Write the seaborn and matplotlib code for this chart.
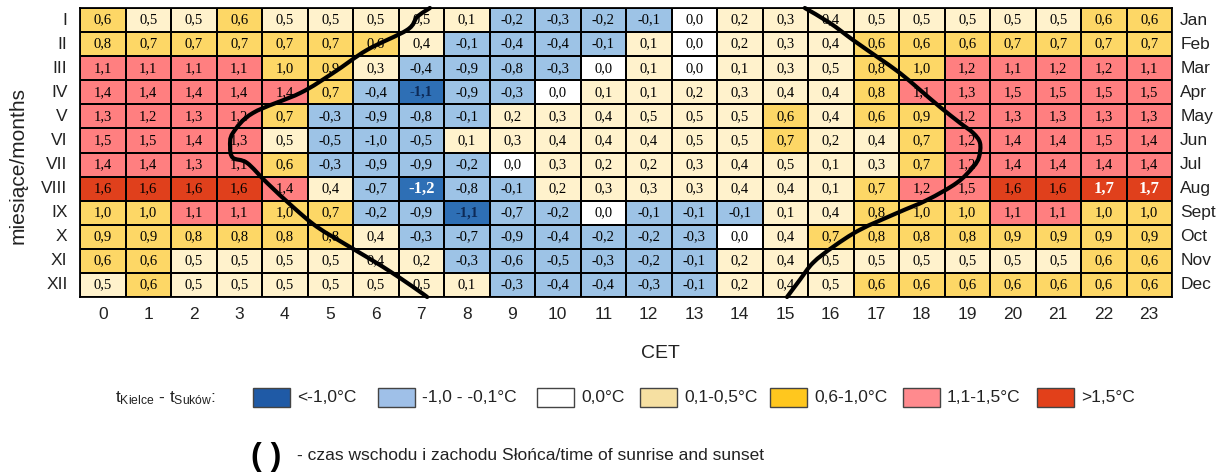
import numpy as np
import pandas as pd
import matplotlib
matplotlib.use("Agg")
import matplotlib.pyplot as plt
from matplotlib.colors import ListedColormap
from matplotlib.patches import Rectangle, PathPatch
from matplotlib.path import Path
import seaborn as sns

# ---- data -----------------------------------------------------------------
hours = list(range(24))
months_roman = ["I", "II", "III", "IV", "V", "VI", "VII", "VIII", "IX", "X", "XI", "XII"]
months_en = ["Jan", "Feb", "Mar", "Apr", "May", "Jun", "Jul", "Aug", "Sept", "Oct", "Nov", "Dec"]

# mean temperature difference t(Kielce) - t(Suków) by hour, one list per month
t_jan = [0.6, 0.5, 0.5, 0.6, 0.5, 0.5, 0.5, 0.5, 0.1, -0.2, -0.3, -0.2, -0.1, 0.0, 0.2, 0.3, 0.4, 0.5, 0.5, 0.5, 0.5, 0.5, 0.6, 0.6]
t_feb = [0.8, 0.7, 0.7, 0.7, 0.7, 0.7, 0.6, 0.4, -0.1, -0.4, -0.4, -0.1, 0.1, 0.0, 0.2, 0.3, 0.4, 0.6, 0.6, 0.6, 0.7, 0.7, 0.7, 0.7]
t_mar = [1.1, 1.1, 1.1, 1.1, 1.0, 0.9, 0.3, -0.4, -0.9, -0.8, -0.3, 0.0, 0.1, 0.0, 0.1, 0.3, 0.5, 0.8, 1.0, 1.2, 1.1, 1.2, 1.2, 1.1]
t_apr = [1.4, 1.4, 1.4, 1.4, 1.4, 0.7, -0.4, -1.1, -0.9, -0.3, 0.0, 0.1, 0.1, 0.2, 0.3, 0.4, 0.4, 0.8, 1.1, 1.3, 1.5, 1.5, 1.5, 1.5]
t_may = [1.3, 1.2, 1.3, 1.2, 0.7, -0.3, -0.9, -0.8, -0.1, 0.2, 0.3, 0.4, 0.5, 0.5, 0.5, 0.6, 0.4, 0.6, 0.9, 1.2, 1.3, 1.3, 1.3, 1.3]
t_jun = [1.5, 1.5, 1.4, 1.3, 0.5, -0.5, -1.0, -0.5, 0.1, 0.3, 0.4, 0.4, 0.4, 0.5, 0.5, 0.7, 0.2, 0.4, 0.7, 1.2, 1.4, 1.4, 1.5, 1.4]
t_jul = [1.4, 1.4, 1.3, 1.1, 0.6, -0.3, -0.9, -0.9, -0.2, 0.0, 0.3, 0.2, 0.2, 0.3, 0.4, 0.5, 0.1, 0.3, 0.7, 1.2, 1.4, 1.4, 1.4, 1.4]
t_aug = [1.6, 1.6, 1.6, 1.6, 1.4, 0.4, -0.7, -1.2, -0.8, -0.1, 0.2, 0.3, 0.3, 0.3, 0.4, 0.4, 0.1, 0.7, 1.2, 1.5, 1.6, 1.6, 1.7, 1.7]
t_sep = [1.0, 1.0, 1.1, 1.1, 1.0, 0.7, -0.2, -0.9, -1.1, -0.7, -0.2, 0.0, -0.1, -0.1, -0.1, 0.1, 0.4, 0.8, 1.0, 1.0, 1.1, 1.1, 1.0, 1.0]
t_oct = [0.9, 0.9, 0.8, 0.8, 0.8, 0.8, 0.4, -0.3, -0.7, -0.9, -0.4, -0.2, -0.2, -0.3, 0.0, 0.4, 0.7, 0.8, 0.8, 0.8, 0.9, 0.9, 0.9, 0.9]
t_nov = [0.6, 0.6, 0.5, 0.5, 0.5, 0.5, 0.4, 0.2, -0.3, -0.6, -0.5, -0.3, -0.2, -0.1, 0.2, 0.4, 0.5, 0.5, 0.5, 0.5, 0.5, 0.5, 0.6, 0.6]
t_dec = [0.5, 0.6, 0.5, 0.5, 0.5, 0.5, 0.5, 0.5, 0.1, -0.3, -0.4, -0.4, -0.3, -0.1, 0.2, 0.4, 0.5, 0.6, 0.6, 0.6, 0.6, 0.6, 0.6, 0.6]

# sunrise / sunset lines: hour position and month position (0 = top edge of January)
sunrise_hour = [7.69, 7.41, 7.19, 6.31, 5.56, 4.84, 3.80, 3.36, 3.30, 3.36, 3.67, 4.11, 4.68, 5.21, 5.93, 6.66, 7.32, 7.63]
sunrise_month = [0.00, 0.37, 0.91, 1.74, 2.70, 3.53, 4.36, 5.19, 5.77, 6.22, 6.43, 7.26, 8.26, 9.09, 9.92, 10.75, 11.58, 12.00]
sunset_hour = [15.93, 16.48, 16.99, 17.52, 18.02, 18.46, 18.90, 19.34, 19.63, 19.78, 19.76, 19.63, 19.27, 18.62, 17.96, 17.14, 16.55, 16.11, 15.82, 15.54]
sunset_month = [0.00, 0.62, 1.33, 2.03, 2.70, 3.40, 4.11, 4.77, 5.19, 5.60, 6.18, 6.60, 7.26, 7.97, 8.51, 9.21, 9.92, 10.58, 11.29, 12.00]

class_labels = ["<-1,0°C", "-1,0 - -0,1°C", "0,0°C", "0,1-0,5°C", "0,6-1,0°C", "1,1-1,5°C", ">1,5°C"]
class_bounds = [-1.05, -0.05, 0.05, 0.55, 1.05, 1.55]
cell_colors = ["#2e6fb5", "#9dc3e6", "#ffffff", "#fff2cc", "#fdd766", "#ff7f80", "#e0401c"]
legend_colors = ["#1f5aa6", "#9fc0e8", "#ffffff", "#f6e0a2", "#ffc71e", "#ff8a8e", "#e2401a"]


def smooth_path(xs, ys):
    """Cubic Bezier path passing through every given point (Catmull-Rom tangents)."""
    pts = np.column_stack([xs, ys])
    ext = np.vstack([pts[0], pts, pts[-1]])
    verts, codes = [pts[0]], [Path.MOVETO]
    for i in range(len(pts) - 1):
        p0, p1, p2, p3 = ext[i], ext[i + 1], ext[i + 2], ext[i + 3]
        verts += [p1 + (p2 - p0) / 6.0, p2 - (p3 - p1) / 6.0, p2]
        codes += [Path.CURVE4] * 3
    return Path(verts, codes)


# ---- styling --------------------------------------------------------------
sns.set_style("white")
plt.rcParams["font.family"] = ["Liberation Sans", "DejaVu Sans"]
plt.rcParams["mathtext.fontset"] = "custom"
plt.rcParams["mathtext.rm"] = "Liberation Sans"
plt.rcParams["mathtext.it"] = "Liberation Sans"

W, H = 1227, 472
fig = plt.figure(figsize=(W / 100, H / 100), dpi=100)
fig.patch.set_facecolor("white")
ax = fig.add_axes([80 / W, 1 - 297 / H, 1092 / W, 289 / H])

values = pd.DataFrame(
    [t_jan, t_feb, t_mar, t_apr, t_may, t_jun, t_jul, t_aug, t_sep, t_oct, t_nov, t_dec],
    index=months_roman, columns=hours,
)
classes = pd.DataFrame(np.digitize(values.values, class_bounds), index=months_roman, columns=hours)
labels = values.map(lambda v: f"{v:.1f}".replace(".", ","))

sns.heatmap(
    classes, ax=ax, cmap=ListedColormap(cell_colors), vmin=-0.5, vmax=6.5,
    annot=labels.values, fmt="",
    annot_kws=dict(fontfamily="Liberation Serif", fontsize=10.5, color="black"),
    linewidths=1.3, linecolor="black", cbar=False,
    xticklabels=hours, yticklabels=months_roman,
)

for txt in ax.texts:
    v = float(txt.get_text().replace(",", "."))
    if v <= -1.15 or v >= 1.65:
        txt.set_color("white")
        txt.set_fontweight("bold")
        txt.set_fontsize(12)
    elif v <= -1.05:
        txt.set_color("#0d2a57")
        txt.set_fontweight("bold")

for s in ax.spines.values():
    s.set_visible(True)
    s.set_color("black")
    s.set_linewidth(1.3)

ax.tick_params(axis="both", length=0, labelsize=12.5, colors="#222222")
ax.tick_params(axis="x", pad=7)
ax.tick_params(axis="y", pad=9)
plt.setp(ax.get_xticklabels(), rotation=0)
plt.setp(ax.get_yticklabels(), rotation=0)
ax.set_xlabel("")
ax.set_ylabel("")

for i, m in enumerate(months_en):
    ax.text(24.18, i + 0.5, m, ha="left", va="center", fontsize=12.5, color="#222222", clip_on=False)

# sunrise and sunset lines
for xs, ys in [(sunrise_hour, sunrise_month), (sunset_hour, sunset_month)]:
    ax.add_patch(PathPatch(smooth_path(xs, ys), fill=False, edgecolor="black", lw=3.0,
                           capstyle="round", joinstyle="round", clip_on=False, zorder=5))

# axis titles
fig.text(660 / W, 1 - 353 / H, "CET", ha="center", va="center", fontsize=14, color="#222222")
fig.text(18 / W, 1 - 165 / H, "miesiące/months", rotation=90, ha="center", va="center",
         fontsize=15, color="#222222")

# class legend
fig.text(115 / W, 1 - 398 / H, r"$\mathregular{t_{Kielce}}$ - $\mathregular{t_{Suków}}$:",
         ha="left", va="center", fontsize=12.5, color="#222222")
box_left = [253, 378, 537, 640, 770, 903, 1037]
for x0, col, lab in zip(box_left, legend_colors, class_labels):
    fig.patches.append(Rectangle((x0 / W, 1 - 407 / H), 37 / W, 19 / H, transform=fig.transFigure,
                                 facecolor=col, edgecolor="#444444", lw=1.0))
    fig.text((x0 + 44) / W, 1 - 398 / H, lab, ha="left", va="center", fontsize=12.5, color="#222222")

# sunrise/sunset key
fig.text(266 / W, 1 - 457 / H, "( )", ha="center", va="center", fontsize=23,
         fontweight="heavy", color="black")
fig.text(297 / W, 1 - 456 / H, "- czas wschodu i zachodu Słońca/time of sunrise and sunset",
         ha="left", va="center", fontsize=12.5, color="#222222")

fig.savefig("out.png", dpi=100)
